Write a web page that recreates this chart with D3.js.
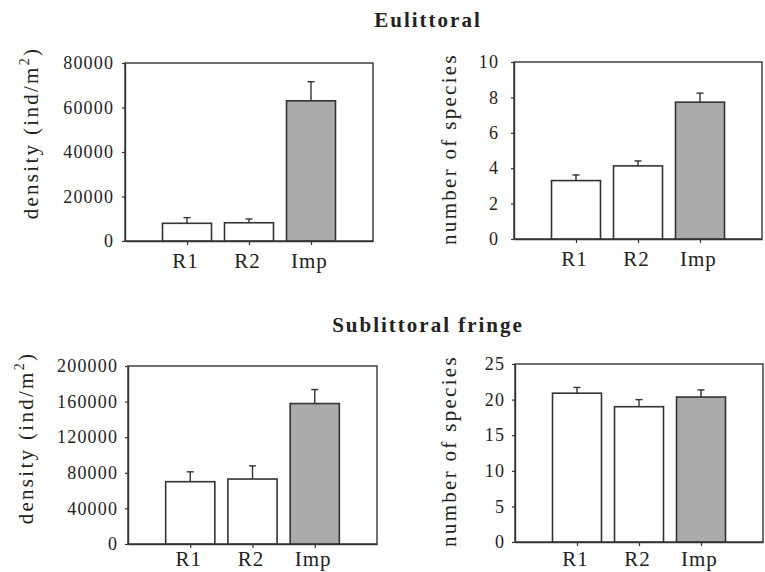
<!DOCTYPE html>
<html><head><meta charset="utf-8">
<script src="https://cdn.jsdelivr.net/npm/d3@7"></script>
<style>
body{margin:0;background:#fff;}
svg{display:block;}
svg text{font-family:"Liberation Serif","Times New Roman",serif;}
</style></head>
<body><svg id="c" width="765" height="572"></svg>
<script>
const categories = ["R1", "R2", "Imp"];
const fills = ["#ffffff", "#ffffff", "#ababab"];

const titles = ["Eulittoral", "Sublittoral fringe"];

const euDensity = [7950, 8200, 63000];
const euDensityErr = [2550, 1700, 8600];
const euDensityTicks = [0, 20000, 40000, 60000, 80000];

const euSpecies = [3.30, 4.13, 7.73];
const euSpeciesErr = [0.32, 0.28, 0.51];
const euSpeciesTicks = [0, 2, 4, 6, 8, 10];

const subDensity = [70000, 73000, 157800];
const subDensityErr = [11100, 14800, 15700];
const subDensityTicks = [0, 40000, 80000, 120000, 160000, 200000];

const subSpecies = [20.9, 19.0, 20.36];
const subSpeciesErr = [0.8, 1.0, 1.0];
const subSpeciesTicks = [0, 5, 10, 15, 20, 25];

const svg = d3.select("#c");
const ink = "#333";
const serif = "'Liberation Serif','Times New Roman',serif";

const panels = [
  {vals: euDensity, err: euDensityErr, ticks: euDensityTicks, label: "density", box: [125, 63, 373, 241], gap: 12, lab: [38, 133], xpad: 8},
  {vals: euSpecies, err: euSpeciesErr, ticks: euSpeciesTicks, label: "species", box: [514, 62, 762, 239], gap: 16, lab: [456, 149], xpad: 8},
  {vals: subDensity, err: subDensityErr, ticks: subDensityTicks, label: "density", box: [128, 366, 377, 544], gap: 11, lab: [33, 438], xpad: 3},
  {vals: subSpecies, err: subSpeciesErr, ticks: subSpeciesTicks, label: "species", box: [515, 364, 763, 542], gap: 11, lab: [456, 451], xpad: 5}
];

// titles
svg.append("text").attr("x", 428).attr("y", 27).attr("text-anchor", "middle")
  .attr("font-family", serif).attr("font-size", 21).attr("font-weight", "bold").attr("letter-spacing", 2)
  .attr("fill", "#222").text(titles[0]);
svg.append("text").attr("x", 428).attr("y", 332).attr("text-anchor", "middle")
  .attr("font-family", serif).attr("font-size", 21).attr("font-weight", "bold").attr("letter-spacing", 2)
  .attr("fill", "#222").text(titles[1]);

panels.forEach(p => {
  const [x0, y0, x1, y1] = p.box;
  const pos = d3.scaleLinear().domain([0, categories.length + 1]).range([x0, x1]);
  const step = pos(1) - pos(0);
  const bw = step * 0.79;
  const y = d3.scaleLinear().domain([0, p.ticks[p.ticks.length - 1]]).range([y1, y0]);
  const g = svg.append("g");

  // frame
  g.append("rect").attr("x", x0).attr("y", y0).attr("width", x1 - x0).attr("height", y1 - y0)
    .attr("fill", "none").attr("stroke", ink).attr("stroke-width", 1.4);

  // bars
  g.selectAll("rect.bar").data(p.vals).join("rect").attr("class", "bar")
    .attr("x", (d, i) => pos(i + 1) - bw / 2).attr("width", bw)
    .attr("y", d => y(d)).attr("height", d => y(0) - y(d))
    .attr("fill", (d, i) => fills[i]).attr("stroke", ink).attr("stroke-width", 1.6);

  // error bars
  const eb = g.selectAll("g.eb").data(p.vals).join("g").attr("class", "eb");
  eb.append("line").attr("x1", (d, i) => pos(i + 1)).attr("x2", (d, i) => pos(i + 1))
    .attr("y1", d => y(d)).attr("y2", (d, i) => y(d + p.err[i]))
    .attr("stroke", ink).attr("stroke-width", 1.4);
  eb.append("line").attr("x1", (d, i) => pos(i + 1) - 3.5).attr("x2", (d, i) => pos(i + 1) + 3.5)
    .attr("y1", (d, i) => y(d + p.err[i])).attr("y2", (d, i) => y(d + p.err[i]))
    .attr("stroke", ink).attr("stroke-width", 1.4);

  // y axis
  const ya = g.append("g").attr("transform", `translate(${x0},0)`)
    .call(d3.axisLeft(y).tickValues(p.ticks).tickFormat(d3.format("d")).tickSize(3).tickSizeOuter(0).tickPadding(p.gap - 3 - 1.2));
  ya.attr("font-family", serif);
  ya.select(".domain").attr("stroke", ink).attr("stroke-width", 1.4);
  ya.selectAll(".tick line").attr("stroke", ink).attr("stroke-width", 1.2);
  ya.selectAll(".tick text").attr("font-family", serif).attr("font-size", 18)
    .attr("letter-spacing", 1.2).attr("fill", "#222");

  // x axis
  const xa = g.append("g").attr("transform", `translate(0,${y1})`)
    .call(d3.axisBottom(pos).tickValues(d3.range(1, categories.length + 1))
      .tickFormat(i => categories[i - 1]).tickSize(4).tickSizeOuter(0).tickPadding(p.xpad));
  xa.attr("font-family", serif);
  xa.select(".domain").attr("stroke", ink).attr("stroke-width", 1.4);
  xa.selectAll(".tick line").attr("stroke", ink).attr("stroke-width", 1.2);
  xa.selectAll(".tick text").attr("font-family", serif).attr("font-size", 21)
    .attr("letter-spacing", 1).attr("fill", "#222").attr("dx", "-0.1em");

  // y label
  const t = svg.append("text").attr("transform", `translate(${p.lab[0]},${p.lab[1]}) rotate(-90)`)
    .attr("text-anchor", "middle").attr("font-family", serif).attr("font-size", 21)
    .attr("letter-spacing", 2.3).attr("fill", "#222");
  if (p.label === "density") {
    t.append("tspan").text("density (ind/m");
    t.append("tspan").attr("font-size", 14).attr("dy", -9).text("2");
    t.append("tspan").attr("dy", 9).text(")");
  } else {
    t.text("number of species");
  }
});
</script></body></html>
